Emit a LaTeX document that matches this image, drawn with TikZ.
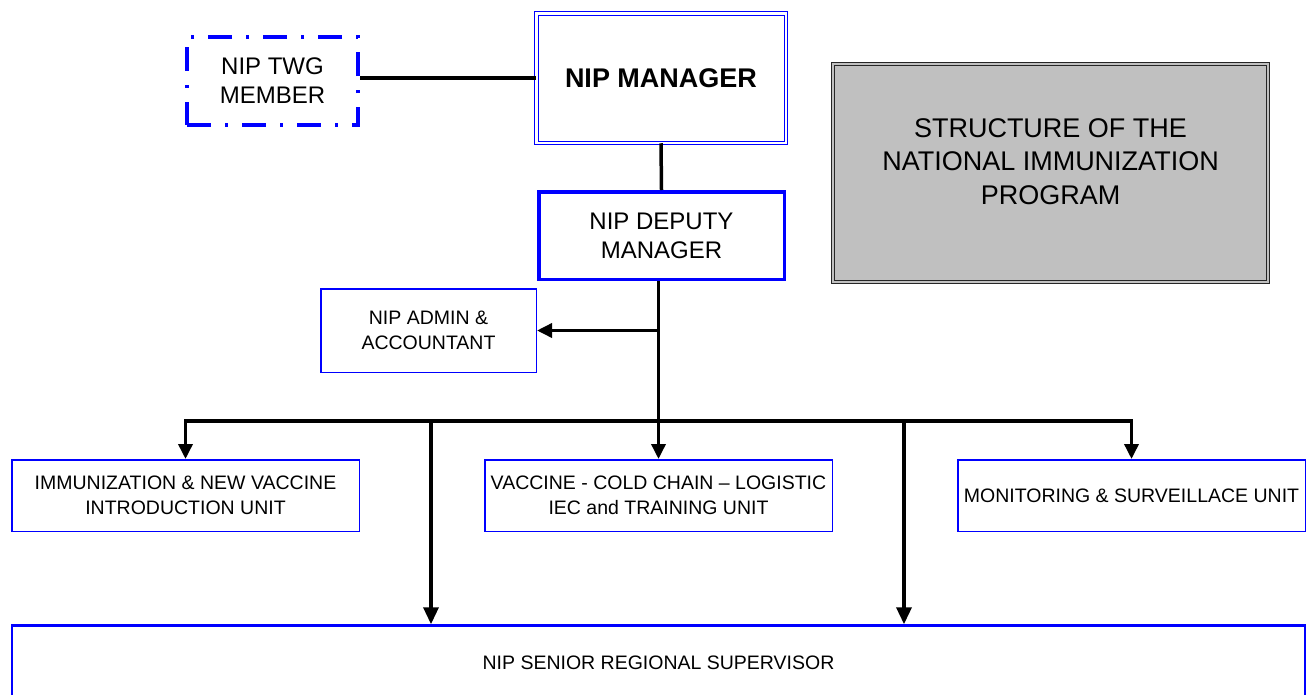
\documentclass[tikz,border=0pt]{standalone}
\usepackage{fontspec}
\setmainfont{Liberation Sans}
\usetikzlibrary{arrows.meta}
\definecolor{nipblue}{RGB}{0,0,255}
\definecolor{boxgray}{RGB}{192,192,192}
\begin{document}
\begin{tikzpicture}[x=1pt,y=-1pt,
  box/.style={draw=nipblue, line width=1.5pt, fill=white, inner sep=0pt, align=center,
    font=\fontsize{19.5}{24.5}\selectfont},
  bigtext/.style={font=\fontsize{24}{29}\selectfont},
  conn/.style={line width=3.5pt, black},
  tipbig/.style={-{Triangle[width=14pt,length=15pt]}},
  tipthin/.style={-{Triangle[width=15pt,length=17pt]}},
]
\useasboundingbox (0,0) rectangle (1307,694);

% nodes
\node[box, bigtext, draw=nipblue, line width=4pt, dash pattern=on 24pt off 14pt on 3pt off 14pt,
  minimum width=171pt, minimum height=88pt] (twg) at (272.5,81) {NIP TWG\\MEMBER};
\node[box, draw=nipblue, line width=1pt, double=white, double distance=2.5pt,
  minimum width=249.5pt, minimum height=129.5pt,
  font=\fontsize{27}{32}\selectfont\bfseries] (mgr) at (661,78) {NIP MANAGER};
\node[box, bigtext, line width=3.5pt, minimum width=245.5pt, minimum height=87.5pt]
  (dep) at (661.5,235.5) {NIP DEPUTY\\MANAGER};
\node[box, minimum width=215.5pt, minimum height=83.5pt] (adm) at (428.5,330.5)
  {NIP ADMIN \&\\ACCOUNTANT};
\node[box, minimum width=347.5pt, minimum height=71.5pt] (imm) at (185.5,495.5)
  {IMMUNIZATION \& NEW VACCINE\\INTRODUCTION UNIT};
\node[box, minimum width=347.5pt, minimum height=71.5pt] (vac) at (658.5,495.5)
  {VACCINE - COLD CHAIN – LOGISTIC\\IEC and TRAINING UNIT};
\node[box, minimum width=347.5pt, minimum height=71.5pt] (mon) at (1131.5,495.5)
  {MONITORING \& SURVEILLACE UNIT};
\node[box, line width=2.5pt, minimum width=1293pt, minimum height=75pt] (sen) at (658.5,663)
  {NIP SENIOR REGIONAL SUPERVISOR};

\node[draw=black!85, line width=1.2pt, double=boxgray, double distance=2pt, fill=boxgray,
  minimum width=434.6pt, minimum height=217.6pt, inner sep=0pt] (str) at (1050.5,173) {};
\node[align=center, font=\fontsize{27}{33.5}\selectfont] (strtext) at (1050.5,161.5)
  {STRUCTURE OF THE\\NATIONAL IMMUNIZATION\\PROGRAM};

% bus coordinates
\coordinate (bus) at (658.5,421);
\coordinate (s1) at (431,421);
\coordinate (s2) at (904,421);

% connectors
\draw[conn] (twg.east |- mgr.west) -- (mgr.west);
\draw[conn] (mgr.south) -- (dep.north);
\draw[conn, tipbig] (dep.south -| vac.north) -- (vac.north);
\draw[conn, tipbig] (vac.north |- adm.east) -- (adm.east);
\draw[conn, {Triangle[width=14pt,length=15pt]}-{Triangle[width=14pt,length=15pt]}]
  (imm.north) -- (imm.north |- bus) -- (mon.north |- bus) -- (mon.north);
\draw[conn, tipthin] (s1) -- (s1 |- sen.north);
\draw[conn, tipthin] (s2) -- (s2 |- sen.north);
\end{tikzpicture}
\end{document}
